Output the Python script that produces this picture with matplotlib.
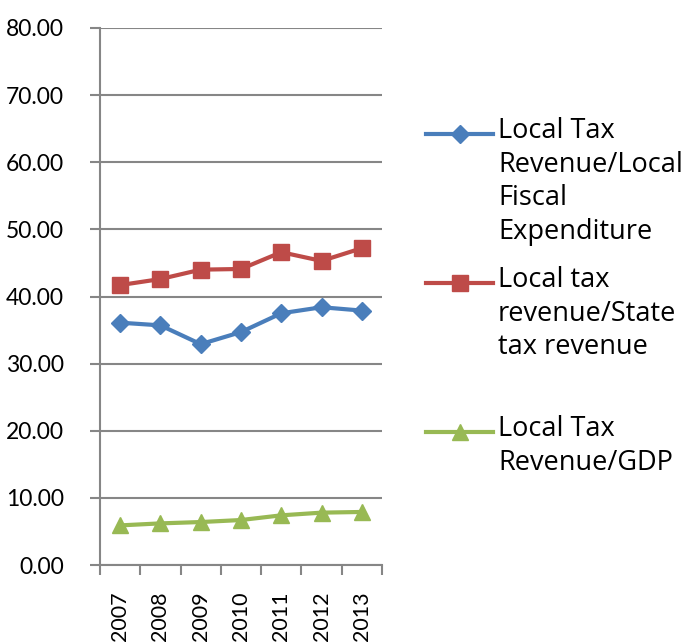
import numpy as np
import matplotlib.pyplot as plt
from matplotlib.lines import Line2D

# data
years = ['2007', '2008', '2009', '2010', '2011', '2012', '2013']
tax_over_exp = [36.1, 35.7, 32.9, 34.7, 37.5, 38.4, 37.9]
tax_over_state = [41.7, 42.6, 44.0, 44.1, 46.6, 45.3, 47.2]
tax_over_gdp = [5.9, 6.2, 6.4, 6.7, 7.4, 7.8, 7.9]

labels = ['Local Tax\nRevenue/Local\nFiscal\nExpenditure',
          'Local tax\nrevenue/State\ntax revenue',
          'Local Tax\nRevenue/GDP']
colors = ['#4A7EBB', '#BE4B48', '#98B954']
markers = ['D', 's', '^']
msizes = [9, 11, 11]

W, H = 685, 644
fig = plt.figure(figsize=(W / 100, H / 100), dpi=100)
ax = fig.add_axes([100 / W, 1 - 565 / H, 282 / W, 537 / H])

x = np.arange(len(years))
series = [tax_over_exp, tax_over_state, tax_over_gdp]
for vals, c, m, ms in zip(series, colors, markers, msizes):
    ax.plot(x, vals, color=c, lw=3, marker=m, ms=ms, zorder=3)

grid_c = '#868686'
ax.set_xlim(-0.5, len(years) - 0.5)
ax.set_ylim(0, 80)
ax.set_yticks(np.arange(0, 81, 10))
ax.set_yticklabels(['%.2f' % v for v in np.arange(0, 81, 10)],
                   family='Lato', fontsize=16.5)
ax.yaxis.grid(True, color=grid_c, lw=1.5)
ax.set_axisbelow(True)

# category ticks sit on boundaries, labels in the middle
ax.set_xticks(np.arange(-0.5, len(years), 1))
ax.set_xticklabels([])
ax.set_xticks(x, minor=True)
ax.set_xticklabels(years, minor=True, rotation=90, family='Lato', fontsize=15.5)
ax.tick_params(axis='x', which='minor', length=0, pad=19)
ax.tick_params(axis='x', which='major', length=7, width=1.5, color=grid_c)
ax.tick_params(axis='y', length=7, width=1.5, color=grid_c, pad=19)

for s in ['top', 'right']:
    ax.spines[s].set_visible(False)
for s in ['left', 'bottom']:
    ax.spines[s].set_color(grid_c)
    ax.spines[s].set_linewidth(1.5)

# legend drawn by hand so the handle lines up with the first text line
leg_y = [134, 283, 432]
for lab, c, m, ms, yy in zip(labels, colors, markers, msizes, leg_y):
    fy = 1 - yy / H
    fig.add_artist(Line2D([426 / W, 493 / W], [fy, fy], color=c, lw=3,
                          transform=fig.transFigure))
    fig.add_artist(Line2D([459.5 / W], [fy], color=c, marker=m, ms=ms,
                          transform=fig.transFigure))
    fig.text(498 / W, fy + 17 / H, lab, ha='left', va='top', fontsize=19.5,
             family='Open Sans', linespacing=1.27)

fig.savefig('out.png', dpi=100)
